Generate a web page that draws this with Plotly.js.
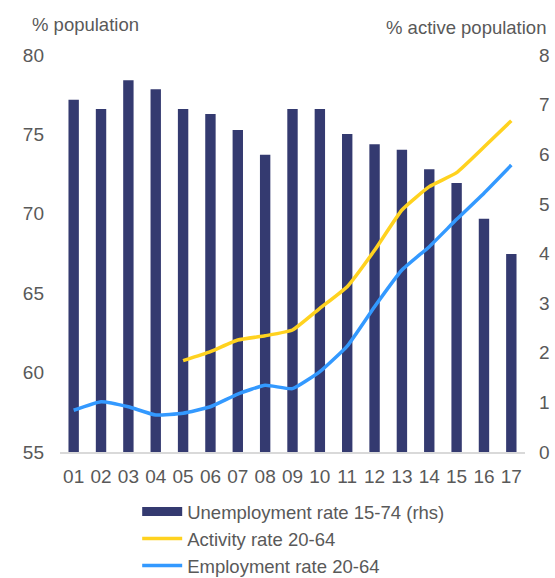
<!DOCTYPE html>
<html>
<head>
<meta charset="utf-8">
<script src="https://cdn.plot.ly/plotly-3.0.1.min.js"></script>
<style>html,body{margin:0;padding:0;background:#fff;}#chart{width:555px;height:578px;}</style>
</head>
<body>
<div id="chart"></div>
<script>
const years = ["01","02","03","04","05","06","07","08","09","10","11","12","13","14","15","16","17"];
const unemploymentRate = [7.10,6.91,7.49,7.31,6.91,6.81,6.49,5.99,6.91,6.91,6.41,6.20,6.09,5.70,5.42,4.70,3.99];
const activityRate = [null,null,null,null,60.75,61.32,62.05,62.32,62.68,64.05,65.41,67.7,70.24,71.71,72.59,74.2,75.86];
const employmentRate = [57.63,58.17,57.85,57.33,57.44,57.85,58.65,59.2,58.99,60.06,61.67,64.15,66.46,67.93,69.65,71.3,73.07];

const navy = "#343A70", yellow = "#FFD21F", blue = "#3399FF", grey = "#595959";
const font = {family: "Liberation Sans, Arial, sans-serif", size: 18.5, color: grey};
const tickFont = {family: "Liberation Sans, Arial, sans-serif", size: 19, color: grey};

const traces = [
  {type: "bar", x: years, y: unemploymentRate, yaxis: "y", marker: {color: navy},
   width: 0.38, showlegend: false, name: "Unemployment rate 15-74 (rhs)", hoverinfo: "x+y"},
  {type: "scatter", mode: "lines", x: [null], y: [null], yaxis: "y",
   line: {color: navy, width: 9}, name: "Unemployment rate 15-74 (rhs)"},
  {type: "scatter", mode: "lines", x: years, y: activityRate, yaxis: "y2",
   line: {color: yellow, width: 3.5, shape: "spline", smoothing: 0.4}, name: "Activity rate 20-64", connectgaps: false},
  {type: "scatter", mode: "lines", x: years, y: employmentRate, yaxis: "y2",
   line: {color: blue, width: 3.5, shape: "spline", smoothing: 0.4}, name: "Employment rate 20-64"}
];

const layout = {
  width: 555, height: 578,
  margin: {l: 60, r: 30, t: 55, b: 126, autoexpand: false},
  paper_bgcolor: "#fff", plot_bgcolor: "#fff",
  font: font,
  showlegend: true,
  legend: {x: 0.166, y: -0.103, xanchor: "left", yanchor: "top", orientation: "v",
           font: font, tracegroupgap: 0, itemwidth: 40, bgcolor: "rgba(0,0,0,0)"},
  xaxis: {type: "category", range: [-0.5, 16.5], showgrid: false, zeroline: false,
          showline: true, linecolor: "#D9D9D9", linewidth: 1.5, ticks: "",
          tickfont: tickFont, ticklabelstandoff: 7, fixedrange: true},
  yaxis: {side: "right", range: [0, 8], dtick: 1, showgrid: false, zeroline: false,
          showline: false, ticks: "", tickfont: tickFont, ticklabelstandoff: 13},
  yaxis2: {side: "left", overlaying: "y", range: [55, 80], dtick: 5, showgrid: false,
           zeroline: false, showline: false, ticks: "", tickfont: tickFont, ticklabelstandoff: 15},
  annotations: [
    {text: "% population", xref: "paper", yref: "paper", x: -0.0645, y: 1.078,
     xanchor: "left", yanchor: "middle", showarrow: false, font: font},
    {text: "% active population", xref: "paper", yref: "paper", x: 1.049, y: 1.07,
     xanchor: "right", yanchor: "middle", showarrow: false, font: font}
  ]
};

Plotly.newPlot("chart", traces, layout, {displayModeBar: false, staticPlot: true});
</script>
</body>
</html>
